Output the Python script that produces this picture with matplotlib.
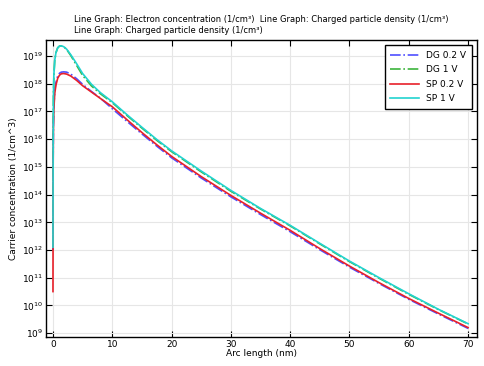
import matplotlib
matplotlib.use("Agg")
import matplotlib.pyplot as plt
import numpy as np

# Arc length samples (nm)
x = [0.0, 0.03, 0.08, 0.15, 0.3, 0.5, 0.8, 1.1, 1.4, 1.8, 2.3, 3.0, 4.0, 5.0,
     6.5, 8.0, 10.0, 12.5, 15.0, 17.5, 20.0, 25.0, 30.0, 35.0, 40.0, 45.0,
     50.0, 55.0, 60.0, 65.0, 70.0]

# log10 of concentration (1/cm^3)
dg_02 = [12.0, 15.3, 16.6, 17.2, 17.75, 18.05, 18.28, 18.38, 18.42, 18.43, 18.42,
         18.35, 18.18, 17.98, 17.72, 17.48, 17.10, 16.64, 16.19, 15.75, 15.33,
         14.60, 13.92, 13.28, 12.66, 12.01, 11.38, 10.79, 10.22, 9.69, 9.17]
dg_1 = [12.1, 16.0, 17.6, 18.3, 18.85, 19.12, 19.30, 19.36, 19.37, 19.34, 19.24,
        19.02, 18.66, 18.30, 17.92, 17.64, 17.32, 16.85, 16.40, 15.96, 15.55,
        14.82, 14.12, 13.48, 12.87, 12.22, 11.58, 10.98, 10.40, 9.85, 9.33]
sp_02 = [10.5, 15.0, 16.5, 17.1, 17.65, 17.95, 18.2, 18.31, 18.36, 18.37, 18.35,
         18.28, 18.12, 17.93, 17.70, 17.47, 17.17, 16.70, 16.24, 15.80, 15.38,
         14.65, 13.97, 13.33, 12.71, 12.05, 11.42, 10.82, 10.25, 9.72, 9.20]
sp_1 = [12.1, 16.0, 17.6, 18.3, 18.85, 19.12, 19.30, 19.36, 19.37, 19.34, 19.25,
        19.05, 18.72, 18.37, 17.98, 17.68, 17.35, 16.88, 16.43, 15.99, 15.58,
        14.85, 14.15, 13.50, 12.89, 12.24, 11.60, 11.00, 10.42, 9.86, 9.34]

labels = ["DG 0.2 V", "DG 1 V", "SP 0.2 V", "SP 1 V"]
series = [dg_02, dg_1, sp_02, sp_1]
colors = ["#4f4fff", "#3cb43c", "#e8202a", "#22d3d0"]
styles = ["-.", "-.", "-", "-"]

fig = plt.figure(figsize=(4.85, 3.66), dpi=100)
ax = fig.add_axes([0.0948, 0.0792, 0.8887, 0.8115])

for vals, lab, c, ls in zip(series, labels, colors, styles):
    ax.plot(x, np.power(10.0, vals), ls, color=c, lw=1.2, label=lab)

ax.set_yscale("log")
ax.set_xlim(-1.18, 71.5)
ax.set_ylim(10**8.86, 10**19.58)
ax.set_xticks([0, 10, 20, 30, 40, 50, 60, 70])
ax.set_yticks([10.0**k for k in range(9, 20)])
ax.yaxis.set_minor_locator(matplotlib.ticker.NullLocator())
ax.tick_params(which="both", direction="in", top=True, right=True,
               labelsize=6.5, length=4, width=0.8, pad=2)
ax.grid(True, color="#e6e6e6", lw=0.8)
ax.set_axisbelow(True)
for sp in ax.spines.values():
    sp.set_linewidth(1.0)

ax.set_xlabel("Arc length (nm)", fontsize=6.5, labelpad=0)
ax.set_ylabel("Carrier concentration (1/cm^3)", fontsize=6.5, labelpad=3)

title = ("Line Graph: Electron concentration (1/cm³)  Line Graph: Charged particle density (1/cm³)\n"
         "Line Graph: Charged particle density (1/cm³)")
ax.text(0.5, 1.018, title, transform=ax.transAxes, ha="center", va="bottom",
        multialignment="left", fontsize=6.0, linespacing=1.2)

leg = ax.legend(loc="upper right", fontsize=6.5, fancybox=False, framealpha=1,
                edgecolor="black", borderaxespad=0.6, handlelength=3.2,
                labelspacing=0.6, borderpad=0.6)
leg.get_frame().set_linewidth(1.0)

fig.savefig("out.png", dpi=100)
